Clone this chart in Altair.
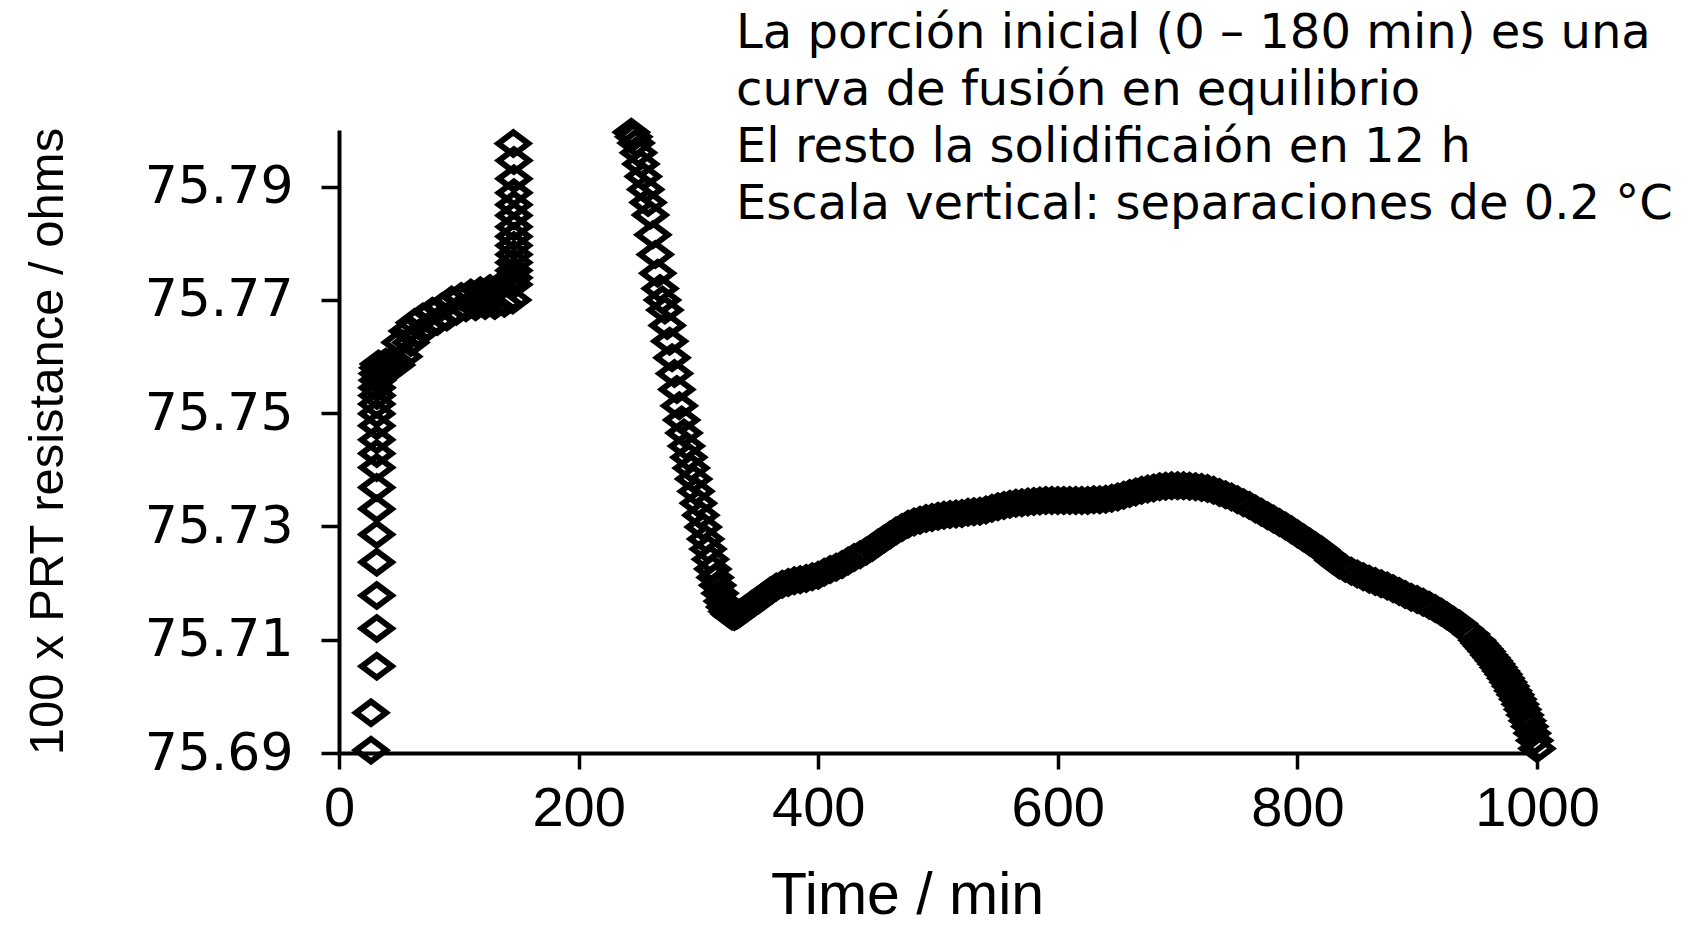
import altair as alt
import pandas as pd

# ---- melting portion ----
melt_time = [26.7, 26.7, 31.5, 31.5, 31.5, 31.5, 31.5, 31.5, 31.5, 31.5, 31.5, 31.5, 31.5, 31.5,
             31.5, 31.7, 31.7, 32, 32, 32.5, 33,
             36, 39, 42, 45, 48, 51, 54, 57, 60, 63, 66, 70, 74, 78, 82, 86, 90, 94,
             98, 102, 106, 110, 114, 118, 122, 126, 130, 134, 138, 142, 145,
             146, 146, 146, 146, 146, 146, 146, 146, 146, 146, 146, 146, 146, 145.5]
melt_res = [75.6905, 75.6971, 75.7053, 75.7120, 75.7178, 75.7237, 75.7286, 75.7331, 75.7369,
            75.7404, 75.7429, 75.7453, 75.7478, 75.7499, 75.7516, 75.7531, 75.7545, 75.7558,
            75.7570, 75.7580, 75.7587,
            75.7584, 75.7590, 75.7586, 75.7595, 75.7585, 75.7625, 75.7600, 75.7645, 75.7625,
            75.7660, 75.7640, 75.7670, 75.7652, 75.7680, 75.7662, 75.7688, 75.7670, 75.7700,
            75.7680, 75.7706, 75.7686, 75.7712, 75.7688, 75.7716, 75.7690, 75.7720, 75.7690,
            75.7724, 75.7694, 75.7728, 75.7700,
            75.7727, 75.7739, 75.7752, 75.7766, 75.7780, 75.7796, 75.7812, 75.7829, 75.7849,
            75.7868, 75.7889, 75.7914, 75.7946, 75.7976]

# ---- freezing portion ----
freeze_time = [244, 246, 248, 250, 252, 254, 256, 258, 260, 262, 264, 266, 268, 270, 272, 274,
               276, 278, 280, 282, 284, 286, 288, 290, 292, 294, 296, 298, 300, 302, 304, 306,
               308, 310, 312, 314, 316, 318, 320, 322, 324, 326, 328, 330, 332, 334,
               335, 340, 345, 350, 355, 360, 365, 370, 375, 380, 385, 390, 395, 400, 405, 410,
               415, 420, 425, 430, 435, 440, 445, 450, 455, 460, 465, 470, 475, 480, 485, 490,
               495, 500, 505, 510, 515, 520, 525, 530, 535, 540, 545, 550, 555, 560, 565, 570,
               575, 580, 585, 590, 595, 600, 605, 610, 615, 620, 625, 630, 635, 640, 645, 650,
               655, 660, 665, 670, 675, 680, 685, 690, 695, 700, 705, 710, 715, 720, 725, 730,
               735, 740, 745, 750, 755, 760, 765, 770, 775, 780, 785, 790, 795, 800, 805, 810,
               815, 820, 825, 830, 835, 840, 845, 850, 855, 860, 865, 870, 875, 880, 885, 890,
               895, 900, 905, 910, 915, 920, 925, 930, 935, 940, 945, 950, 952, 954, 956, 958,
               960, 962, 964, 966, 968, 970, 972, 974, 976, 978, 980, 982, 984, 986, 988, 990,
               992, 994, 996, 998, 1000]
freeze_res = [75.7996, 75.7988, 75.7977, 75.7960, 75.7940, 75.7918, 75.7895, 75.7872, 75.7850,
              75.7815, 75.7780, 75.7747, 75.7720, 75.7700, 75.7682, 75.7655, 75.7627, 75.7598,
              75.7570, 75.7542, 75.7513, 75.7488, 75.7465, 75.7442, 75.7422, 75.7403, 75.7384,
              75.7362, 75.7341, 75.7320, 75.7299, 75.7278, 75.7260, 75.7242, 75.7225, 75.7210,
              75.7196, 75.7182, 75.7168, 75.7158, 75.7150, 75.7145, 75.7142, 75.7141, 75.7143,
              75.7146,
              75.7148, 75.7155, 75.7163, 75.7170, 75.7178, 75.7186, 75.7193, 75.7198, 75.7201,
              75.7204, 75.7206, 75.7208, 75.7211, 75.7214, 75.7219, 75.7224, 75.7228, 75.7233,
              75.7239, 75.7245, 75.7250, 75.7256, 75.7263, 75.7271, 75.7278, 75.7285, 75.7292,
              75.7298, 75.7304, 75.7308, 75.7311, 75.7314, 75.7316, 75.7318, 75.7320, 75.7321,
              75.7322, 75.7323, 75.7325, 75.7326, 75.7327, 75.7329, 75.7332, 75.7335, 75.7337,
              75.7339, 75.7341, 75.7342, 75.7343, 75.7344, 75.7345, 75.7346, 75.7346, 75.7346,
              75.7346, 75.7346, 75.7346, 75.7346, 75.7346, 75.7347, 75.7347, 75.7348, 75.7350,
              75.7352, 75.7355, 75.7358, 75.7361, 75.7364, 75.7366, 75.7368, 75.7370, 75.7371,
              75.7372, 75.7372, 75.7372, 75.7371, 75.7370, 75.7369, 75.7367, 75.7364, 75.7360,
              75.7356, 75.7352, 75.7347, 75.7342, 75.7337, 75.7331, 75.7325, 75.7319, 75.7313,
              75.7307, 75.7301, 75.7294, 75.7287, 75.7280, 75.7273, 75.7266, 75.7259, 75.7250,
              75.7240, 75.7232, 75.7226, 75.7221, 75.7216, 75.7211, 75.7207, 75.7203, 75.7199,
              75.7195, 75.7190, 75.7185, 75.7180, 75.7175, 75.7171, 75.7166, 75.7161, 75.7155,
              75.7149, 75.7142, 75.7135, 75.7128, 75.7119, 75.7110, 75.7099, 75.7094, 75.7089,
              75.7084, 75.7079, 75.7073, 75.7068, 75.7063, 75.7057, 75.7051, 75.7045, 75.7039,
              75.7032, 75.7025, 75.7018, 75.7010, 75.7003, 75.6995, 75.6986, 75.6977, 75.6967,
              75.6957, 75.6947, 75.6935, 75.6922, 75.6908]

x_ticks = [0, 200, 400, 600, 800, 1000]
y_ticks = [75.69, 75.71, 75.73, 75.75, 75.77, 75.79]

annotation_lines = [
    "La porción inicial (0 – 180 min) es una",
    "curva de fusión en equilibrio",
    "El resto la solidificaión en 12 h",
    "Escala vertical: separaciones de 0.2 °C",
]

df = pd.DataFrame({
    "time": melt_time + freeze_time,
    "res": melt_res + freeze_res,
})

diamond = "M-1,0L0,-0.75L1,0L0,0.75Z"

points = alt.Chart(df).mark_point(
    shape=diamond, size=900, filled=False, stroke="black",
    strokeWidth=6, opacity=1, clip=False
).encode(
    x=alt.X("time:Q",
            scale=alt.Scale(domain=[0, 1000], nice=False, zero=False),
            axis=alt.Axis(values=x_ticks, title="Time / min", format="d",
                          tickSize=16, labelPadding=12,
                          labelFont="Liberation Sans", labelFontSize=56,
                          titleFont="Liberation Sans", titleFontSize=59,
                          titleFontWeight="normal", titleX=568, titleY=160,
                          titleAlign="center", titleBaseline="alphabetic")),
    y=alt.Y("res:Q",
            scale=alt.Scale(domain=[75.69, 75.80], nice=False, zero=False),
            axis=alt.Axis(values=y_ticks, format=".2f",
                          title="100 x PRT resistance / ohms",
                          tickSize=18, labelPadding=28,
                          labelFont="DejaVu Sans", labelFontSize=52,
                          titleFont="Liberation Sans", titleFontSize=49,
                          titleFontWeight="normal", titleAngle=270,
                          titleX=-277, titleY=311, titleAlign="center",
                          titleBaseline="alphabetic")),
)

note = alt.Chart(alt.Data(values=[{}])).mark_text(
    text=annotation_lines, align="left", baseline="alphabetic",
    font="DejaVu Sans", fontSize=48, lineHeight=57, color="black"
).encode(x=alt.value(397), y=alt.value(-82))

chart = alt.layer(points, note).properties(
    width=1198, height=623,
    autosize=alt.AutoSizeParams(type="none"),
    padding={"left": 339, "top": 130, "right": 151, "bottom": 174},
    background="white",
).configure_view(stroke=None).configure_axis(
    grid=False, domainColor="black", domainWidth=4, tickColor="black",
    tickWidth=3.5, labelColor="black", titleColor="black", labelFlush=False,
    labelOverlap=False
)

chart.save("out.html", embed_options={"renderer": "svg", "actions": False})
